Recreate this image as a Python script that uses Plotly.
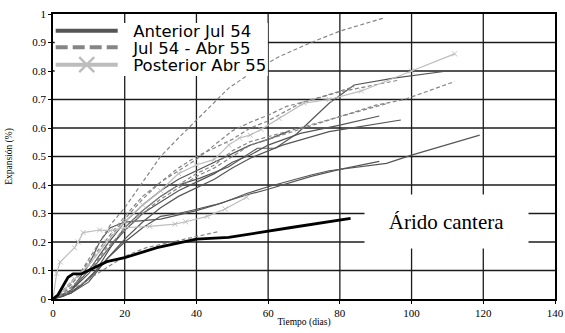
import plotly.graph_objects as go

# ---- data (days, expansion %) ----
A1_x = [0, 3, 8, 12, 16, 20, 25, 30, 35, 41, 49, 57, 62, 68, 77, 84, 95, 110]
A1_y = [0, 0.01, 0.05, 0.10, 0.18, 0.25, 0.31, 0.36, 0.40, 0.424, 0.464, 0.529, 0.529, 0.58, 0.687, 0.751, 0.775, 0.80]
A2_x = [0, 5, 10, 15, 20, 25, 30, 35, 40, 45, 50, 55, 60, 69, 80, 91]
A2_y = [0, 0.03, 0.09, 0.17, 0.24, 0.30, 0.34, 0.38, 0.41, 0.44, 0.48, 0.505, 0.54, 0.581, 0.61, 0.642]
A3_x = [0, 5, 10, 15, 20, 25, 30, 35, 40, 45, 50, 55, 64, 77, 97]
A3_y = [0, 0.02, 0.07, 0.14, 0.21, 0.27, 0.32, 0.36, 0.39, 0.42, 0.46, 0.494, 0.54, 0.587, 0.628]
A4_x = [0, 5, 10, 13, 16, 20, 25, 30, 40, 47, 54, 60, 72, 77, 93, 100, 119]
A4_y = [0, 0.03, 0.12, 0.20, 0.25, 0.27, 0.275, 0.28, 0.31, 0.336, 0.37, 0.394, 0.435, 0.45, 0.476, 0.505, 0.575]
A5_x = [0, 5, 10, 15, 20, 25, 30, 35, 40, 45, 54, 60, 72, 80, 91]
A5_y = [0, 0.02, 0.06, 0.14, 0.20, 0.25, 0.29, 0.30, 0.315, 0.33, 0.365, 0.385, 0.43, 0.455, 0.483]
A6_x = [0, 5, 10, 15, 20, 25, 30, 35, 40, 45, 50, 55, 60, 66]
A6_y = [0, 0.03, 0.10, 0.19, 0.27, 0.33, 0.38, 0.42, 0.45, 0.48, 0.51, 0.54, 0.56, 0.59]

D1_x = [0, 2, 8, 12, 16, 20, 25, 30, 35, 40, 45, 49, 56, 63, 72, 80, 92]
D1_y = [0, 0.02, 0.10, 0.18, 0.26, 0.32, 0.41, 0.50, 0.565, 0.628, 0.69, 0.74, 0.80, 0.85, 0.90, 0.94, 0.985]
D2_x = [0, 5, 10, 15, 20, 25, 30, 35, 40, 45, 50, 55, 60, 67, 80, 90, 98, 112]
D2_y = [0, 0.04, 0.10, 0.17, 0.25, 0.31, 0.36, 0.40, 0.44, 0.47, 0.52, 0.552, 0.57, 0.593, 0.64, 0.68, 0.70, 0.763]
D3_x = [0, 5, 10, 15, 20, 25, 30, 35, 40, 45, 50, 55, 60, 69, 80, 96.5]
D3_y = [0, 0.05, 0.12, 0.20, 0.28, 0.35, 0.41, 0.46, 0.50, 0.53, 0.56, 0.60, 0.625, 0.687, 0.727, 0.768]
D4_x = [0, 5, 10, 15, 20, 25, 30, 35, 40, 45, 50, 55, 60, 70, 80, 93.5]
D4_y = [0, 0.04, 0.10, 0.18, 0.24, 0.30, 0.35, 0.39, 0.43, 0.46, 0.50, 0.54, 0.56, 0.60, 0.64, 0.687]
D5_x = [0, 5, 10, 15, 20, 25, 30, 35, 40, 45, 50, 55, 60, 65, 75, 84]
D5_y = [0, 0.05, 0.13, 0.21, 0.29, 0.36, 0.41, 0.45, 0.49, 0.54, 0.59, 0.62, 0.645, 0.675, 0.71, 0.745]
D6_x = [0, 5, 10, 15, 20, 26, 33, 39, 46]
D6_y = [0, 0.03, 0.07, 0.11, 0.15, 0.18, 0.20, 0.218, 0.236]

L1_x = [0, 1, 2, 6, 7, 8.4, 13, 16, 20, 27, 34, 37, 43, 48, 54]
L1_y = [0, 0.09, 0.13, 0.18, 0.20, 0.233, 0.242, 0.24, 0.25, 0.255, 0.263, 0.271, 0.29, 0.316, 0.357]
L2_x = [0, 3, 6, 10, 15, 20, 25, 30, 35, 40, 45, 49, 52, 55, 58, 63, 70, 77, 86, 100, 112]
L2_y = [0, 0.03, 0.07, 0.12, 0.20, 0.27, 0.33, 0.38, 0.44, 0.47, 0.49, 0.54, 0.565, 0.575, 0.595, 0.634, 0.687, 0.70, 0.73, 0.80, 0.86]

C_x = [0, 1.4, 4.2, 5.6, 7.9, 15, 20, 29, 40, 49, 66, 83]
C_y = [0, 0.015, 0.076, 0.088, 0.088, 0.131, 0.145, 0.18, 0.21, 0.216, 0.25, 0.283]

legend_names = ["Anterior Jul 54", "Jul 54 - Abr 55", "Posterior Abr 55"]
x_ticks = [0, 20, 40, 60, 80, 100, 120, 140]
y_ticks = [0, 0.1, 0.2, 0.3, 0.4, 0.5, 0.6, 0.7, 0.8, 0.9, 1]

C_SOLID = "#555555"
C_DASH = "#858585"
C_LIGHT = "#bdbdbd"
GRID = "#1c1c1c"

fig = go.Figure()

for xs, ys in [(A1_x, A1_y), (A2_x, A2_y), (A3_x, A3_y), (A4_x, A4_y), (A5_x, A5_y), (A6_x, A6_y)]:
    fig.add_trace(go.Scatter(x=xs, y=ys, mode="lines", showlegend=False,
                             line=dict(color=C_SOLID, width=1.2)))
for xs, ys in [(D1_x, D1_y), (D2_x, D2_y), (D3_x, D3_y), (D4_x, D4_y), (D5_x, D5_y), (D6_x, D6_y)]:
    fig.add_trace(go.Scatter(x=xs, y=ys, mode="lines", showlegend=False,
                             line=dict(color=C_DASH, width=1.2, dash="4px,2.5px")))
for xs, ys in [(L1_x, L1_y), (L2_x, L2_y)]:
    fig.add_trace(go.Scatter(x=xs, y=ys, mode="lines+markers", showlegend=False,
                             line=dict(color=C_LIGHT, width=1.2),
                             marker=dict(symbol="x-thin", size=5, color=C_LIGHT,
                                         line=dict(color=C_LIGHT, width=1))))
fig.add_trace(go.Scatter(x=C_x, y=C_y, mode="lines", showlegend=False,
                         line=dict(color="#000000", width=2.8)))

NB = "\u00a0\u00a0"
# legend entries (one legend per row to control spacing)
fig.add_trace(go.Scatter(x=[None], y=[None], mode="lines", name=NB + legend_names[0],
                         legend="legend", line=dict(color=C_SOLID, width=4)))
fig.add_trace(go.Scatter(x=[None], y=[None], mode="lines", name=NB + legend_names[1],
                         legend="legend2", line=dict(color=C_DASH, width=4, dash="12px,5px")))
fig.add_trace(go.Scatter(x=[None], y=[None], mode="lines+markers", name=NB + legend_names[2],
                         legend="legend3", line=dict(color=C_LIGHT, width=4),
                         marker=dict(symbol="x-thin", size=15, color=C_LIGHT,
                                     line=dict(color=C_LIGHT, width=2.5))))

PL, PT, PW, PH = 53, 14, 502, 285

def py(p):  # window pixel y -> paper fraction
    return (299 - p) / 285.0

def px(p):  # window pixel x -> paper fraction
    return (p - 53.3) / 501.7

leg_common = dict(x=px(51), xanchor="left", yanchor="middle", bgcolor="rgba(0,0,0,0)",
                  font=dict(family="DejaVu Sans", size=16.5, color="#000"),
                  itemwidth=62, borderwidth=0)

grid_shapes = []
for v in y_ticks[1:-1]:
    grid_shapes.append(dict(type="line", xref="paper", yref="y", x0=0, x1=1, y0=v, y1=v,
                            layer="below", line=dict(color=GRID, width=1.3)))
for v in x_ticks[1:-1]:
    grid_shapes.append(dict(type="line", xref="x", yref="paper", x0=v, x1=v, y0=0, y1=1,
                            layer="below", line=dict(color=GRID, width=1.3)))

fig.update_layout(
    template="none",
    width=565, height=333,
    margin=dict(l=PL, r=565 - PL - PW, t=PT, b=333 - PT - PH, autoexpand=False),
    paper_bgcolor="white", plot_bgcolor="white",
    legend=dict(y=py(31), **leg_common),
    legend2=dict(y=py(47.5), **leg_common),
    legend3=dict(y=py(65), **leg_common),
    shapes=grid_shapes + [dict(type="rect", xref="paper", yref="paper", layer="above",
                               x0=px(55), x1=px(268), y0=py(76), y1=py(23),
                               fillcolor="white", line=dict(width=0))],
    annotations=[dict(text="Árido cantera", xref="paper", yref="paper",
                      x=px(446.5), y=py(221.5), xanchor="center", yanchor="middle",
                      showarrow=False, bgcolor="white", borderpad=0,
                      width=163, height=53,
                      font=dict(family="Liberation Serif", size=21, color="#000"))],
)

axis_font = dict(family="Liberation Serif", size=11, color="#000")
fig.update_xaxes(range=[0, 140], tickvals=x_ticks, ticktext=[str(v) for v in x_ticks],
                 showgrid=False, automargin=False,
                 showline=True, linecolor="#000", linewidth=1.5, mirror=True,
                 ticks="outside", ticklen=3, tickcolor="#000", zeroline=False,
                 tickfont=axis_font,
                 title=dict(text="Tiempo (dias)", standoff=0,
                            font=dict(family="Liberation Serif", size=9.5, color="#000")))
fig.update_yaxes(range=[0, 1], tickvals=y_ticks, ticktext=[("%g" % v) for v in y_ticks],
                 showgrid=False, automargin=False,
                 showline=True, linecolor="#000", linewidth=1.5, mirror=True,
                 ticks="outside", ticklen=3, tickcolor="#000", zeroline=False,
                 tickfont=axis_font,
                 title=dict(text="Expansión (%)", standoff=18,
                            font=dict(family="Liberation Serif", size=9.5, color="#000")))

fig.write_html("out.html", config={"displayModeBar": False},
               post_script="document.body.style.margin='0';document.body.style.overflow='hidden';")
